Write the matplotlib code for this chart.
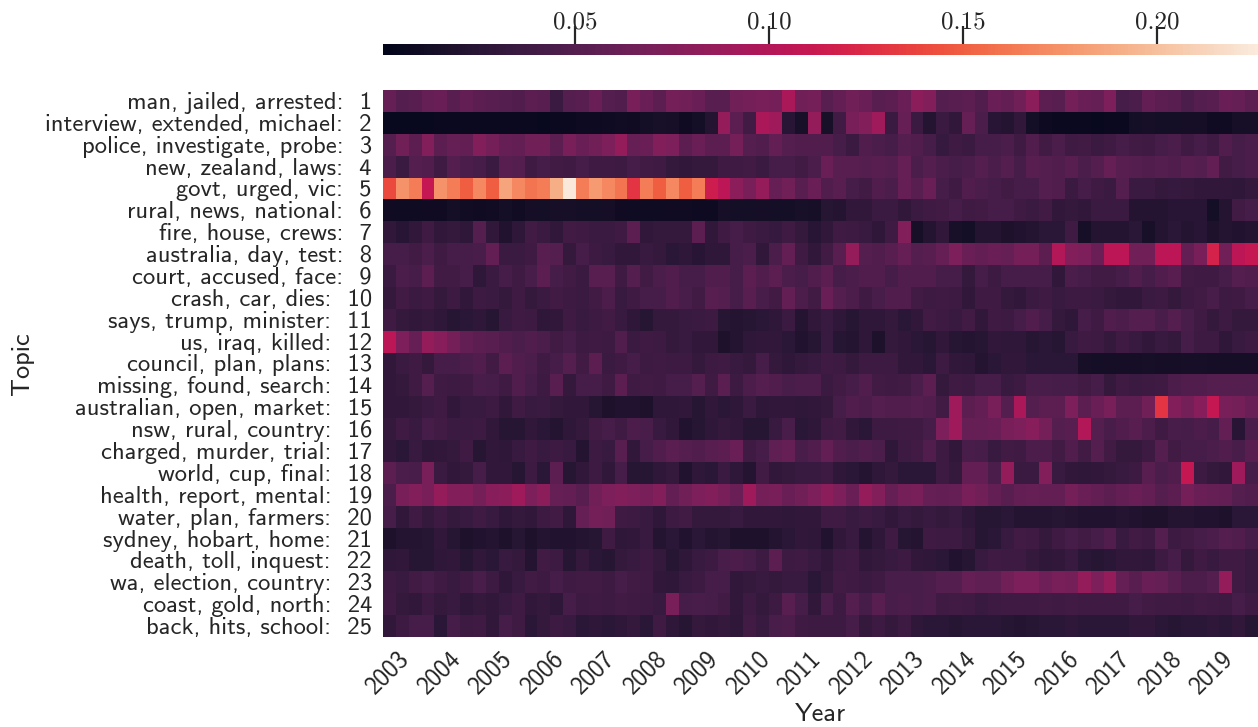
import numpy as np
import matplotlib
matplotlib.use('Agg')
import matplotlib.pyplot as plt
import matplotlib.transforms as mtrans
import seaborn as sns

topics = ['man, jailed, arrested', 'interview, extended, michael', 'police, investigate, probe',
          'new, zealand, laws', 'govt, urged, vic', 'rural, news, national', 'fire, house, crews',
          'australia, day, test', 'court, accused, face', 'crash, car, dies', 'says, trump, minister',
          'us, iraq, killed', 'council, plan, plans', 'missing, found, search', 'australian, open, market',
          'nsw, rural, country', 'charged, murder, trial', 'world, cup, final', 'health, report, mental',
          'water, plan, farmers', 'sydney, hobart, home', 'death, toll, inquest', 'wa, election, country',
          'coast, gold, north', 'back, hits, school']
years = list(range(2003, 2020))

# topic shares per quarter, in thousandths
t01 = [60,50,52,60,62,52,58,55,52,50,48,55,52,35,50,52,62,50,48,70,62,55,68,65,62,52,52,65,68,70,68,95,65,68,
       52,58,65,62,52,55,62,80,75,50,52,55,48,62,58,65,80,55,52,68,62,60,72,42,45,58,55,52,45,50,52,62,60,55]
t02 = [5,5,5,5,6,6,6,6,7,7,6,6,5,6,7,8,8,9,11,10,12,15,14,10,12,22,85,55,40,95,90,25,15,85,
       15,40,70,75,90,35,60,35,22,35,30,60,45,25,22,30,12,8,6,7,6,5,6,7,12,14,12,12,13,13,10,10,14,14]
t03 = [50,65,55,75,55,60,58,75,68,60,58,66,66,55,70,62,65,72,85,60,62,75,72,55,62,55,55,68,50,48,58,50,48,48,
       48,42,35,48,45,42,50,48,42,33,38,35,42,42,45,38,48,40,45,38,40,35,38,42,40,38,42,45,38,42,38,48,42,45]
t04 = [45,35,50,48,38,50,45,42,35,52,50,38,42,40,38,42,38,38,36,42,40,38,32,30,32,32,38,38,40,35,42,42,40,45,
       62,52,52,50,52,50,60,45,50,45,42,45,50,45,50,42,52,50,48,52,45,50,60,52,50,48,50,48,52,50,58,40,42,45]
t05 = [140,175,165,110,175,165,150,170,150,185,170,160,165,190,225,165,180,170,160,130,165,150,170,150,165,115,105,80,70,85,60,65,52,62,
       48,52,42,40,48,45,60,52,62,42,38,48,45,42,40,42,42,50,48,35,42,38,35,50,35,35,32,33,32,30,30,30,28,32]
t06 = [10,9,9,10,10,12,11,10,11,12,11,13,12,14,14,12,12,13,10,9,9,9,10,10,8,8,14,12,12,13,12,12,15,14,
       24,22,30,30,35,35,30,35,38,40,42,38,40,42,42,38,35,40,30,32,30,35,35,35,22,22,22,25,25,25,12,22,40,42]
t07 = [30,25,30,38,30,32,28,50,30,20,28,40,35,30,40,38,35,35,38,55,30,32,32,32,55,30,38,42,38,35,33,38,32,25,
       30,38,36,34,28,38,75,14,22,30,15,12,22,22,18,20,22,26,26,38,14,22,22,22,26,15,22,26,22,25,18,22,20,22]
t08 = [42,42,40,45,38,42,42,44,58,35,35,38,52,50,32,42,36,34,30,30,34,32,26,28,25,28,28,42,45,30,45,58,38,30,
       40,52,85,50,48,52,60,50,52,60,72,62,58,62,60,68,68,55,100,75,72,62,105,105,65,65,105,105,58,70,120,65,105,110]
t09 = [35,45,42,55,40,40,42,28,35,42,38,44,55,42,40,35,52,52,38,50,40,45,48,42,42,48,48,42,55,48,55,45,42,48,
       55,42,45,48,48,42,48,48,48,42,42,32,42,36,42,42,42,42,30,45,42,40,40,42,48,42,48,52,40,38,38,42,50,48]
t10 = [32,40,35,38,32,36,30,36,35,32,38,32,35,40,36,35,40,46,34,38,42,42,48,44,40,52,50,42,52,44,40,58,46,40,
       62,50,46,38,44,48,48,40,36,38,36,30,38,38,32,30,35,38,34,36,36,35,32,30,30,35,36,32,36,40,44,36,38,42]
t11 = [38,32,30,32,28,24,26,28,24,34,38,36,28,30,38,34,36,40,34,28,24,32,32,34,35,36,24,22,24,26,28,35,22,30,
       34,28,24,28,28,32,26,30,40,36,34,40,30,38,36,42,48,42,32,28,42,38,48,46,50,50,44,50,44,38,32,36,32,32]
t12 = [105,72,60,85,78,68,58,55,52,48,45,48,45,40,42,36,38,36,48,35,38,36,32,34,30,30,18,22,28,30,30,26,20,24,
       34,24,22,28,18,32,30,26,24,30,24,22,24,30,28,28,24,26,24,34,38,36,32,38,34,30,34,32,42,36,36,28,34,36]
t13 = [30,35,38,32,42,42,45,48,40,55,48,45,38,42,50,40,55,35,38,42,36,38,36,36,32,36,38,34,32,42,32,28,32,34,
       38,36,32,36,36,36,30,30,26,36,30,28,22,26,30,30,26,26,26,26,14,12,13,13,13,14,13,13,14,14,13,13,13,13]
t14 = [30,32,38,50,38,36,38,44,42,38,48,42,36,52,32,42,42,38,55,38,40,38,42,42,50,38,54,36,46,50,48,44,46,46,
       35,40,42,48,40,38,40,45,55,32,38,36,42,42,34,36,44,44,42,42,40,42,32,38,35,36,38,46,48,48,50,50,50,50]
t15 = [30,30,32,35,38,30,34,34,36,30,38,34,35,32,30,30,24,18,20,20,18,28,28,30,24,30,26,28,35,28,30,30,28,30,
       32,42,48,46,50,48,48,50,48,40,90,55,58,70,50,95,50,55,55,72,55,62,70,55,55,65,130,75,68,78,110,70,68,62]
t16 = [32,38,34,42,40,35,35,36,30,24,24,30,26,22,28,32,40,42,38,46,44,34,30,20,24,28,32,30,24,24,34,44,26,28,
       38,40,30,26,36,36,38,38,42,72,90,60,60,62,70,72,78,68,50,52,100,50,44,48,52,46,38,44,42,46,42,58,25,45]
t17 = [30,26,34,28,30,32,38,24,30,28,34,38,34,36,34,22,36,34,52,30,42,48,54,50,48,52,55,62,38,42,56,60,44,48,
       58,48,45,48,45,28,36,40,48,36,30,44,42,34,40,38,46,46,40,48,40,50,40,32,32,36,50,40,42,42,45,48,44,52]
t18 = [55,45,44,70,35,30,32,42,30,30,24,36,26,55,24,30,36,30,42,24,24,28,32,20,28,26,35,28,22,40,30,32,34,34,
       36,28,26,22,28,32,26,26,26,36,32,58,58,45,85,35,35,75,34,30,28,30,32,34,36,52,45,48,110,36,32,30,90,42]
t19 = [45,70,75,70,85,75,75,68,78,80,90,72,80,60,58,52,65,72,75,72,70,75,58,65,72,75,70,62,90,68,70,62,65,72,
       80,72,62,85,75,60,68,70,60,58,60,70,65,58,52,58,60,58,58,68,62,58,55,58,62,58,50,55,68,62,60,58,50,48]
t20 = [42,30,38,32,36,32,34,38,34,28,32,30,36,40,28,60,68,65,38,36,34,28,36,40,32,32,32,34,30,30,30,28,30,30,
       38,38,34,36,34,30,34,32,34,32,34,28,24,24,26,22,22,22,24,22,20,20,20,22,20,18,18,22,22,20,20,18,26,26]
t21 = [18,22,22,24,30,24,18,20,22,18,24,18,22,20,20,22,24,38,28,30,34,22,26,20,26,22,24,18,18,18,22,26,30,28,
       20,30,34,22,28,38,24,22,38,36,36,32,24,26,34,40,38,32,38,42,40,42,48,34,40,36,50,36,40,42,45,50,48,42]
t22 = [28,30,24,24,28,30,24,30,26,34,32,22,40,36,24,32,26,24,32,34,36,32,24,28,34,36,44,46,42,36,55,36,38,34,
       30,36,38,30,32,34,36,30,28,26,20,24,34,38,36,36,32,28,30,34,26,24,26,30,30,28,36,42,32,38,34,38,38,34]
t23 = [36,34,40,42,38,34,38,44,36,28,34,40,36,42,38,40,40,36,42,40,38,30,28,34,36,42,42,30,32,34,32,34,34,26,
       32,40,38,35,38,44,44,44,46,50,50,60,56,56,65,72,72,64,70,68,85,72,85,60,52,62,60,52,46,46,50,85,38,34]
t24 = [38,32,30,36,32,34,28,32,30,34,38,30,32,28,42,36,38,36,40,38,36,34,70,42,44,42,40,30,36,32,36,52,42,30,
       45,36,50,42,52,44,46,44,46,38,40,38,34,36,38,38,38,40,38,40,38,38,38,38,42,40,38,38,36,40,38,36,42,38]
t25 = [30,36,42,42,26,42,36,38,30,42,38,26,32,36,34,26,28,26,28,32,26,38,28,24,32,30,32,28,40,34,44,46,38,36,
       36,36,42,32,36,32,36,28,26,26,24,26,26,26,24,22,24,26,26,28,26,26,26,26,30,30,26,24,26,26,28,26,30,24]

rows = [t01, t02, t03, t04, t05, t06, t07, t08, t09, t10, t11, t12, t13,
        t14, t15, t16, t17, t18, t19, t20, t21, t22, t23, t24, t25]
data = np.array(rows) / 1000

text_color = '#262626'

fig = plt.figure(figsize=(12.58, 7.27), dpi=100)
W, H = 1258, 727
ax = fig.add_axes([383 / W, 1 - 637 / H, 875 / W, 547 / H])
cax = fig.add_axes([383 / W, 1 - 55 / H, 875 / W, 11 / H])

sns.heatmap(data, ax=ax, cbar_ax=cax, cmap='rocket', vmin=0.0005, vmax=0.226,
            cbar_kws={'orientation': 'horizontal'})

ylabels = ['{}:  {}'.format(t, i + 1) for i, t in enumerate(topics)]
ax.set_yticks(np.arange(len(topics)) + 0.5)
ax.set_yticklabels(ylabels, rotation=0, fontsize=17.7, family='cmss10', color=text_color)
ax.set_xticks(np.arange(len(years)) * 4 + 0.4)
ax.set_xticklabels(years, rotation=45, fontsize=18, family='cmss10', color=text_color)
ax.tick_params(axis='x', length=0, pad=7)
ax.tick_params(axis='y', length=0, pad=8)
ax.set_ylabel('Topic', fontsize=19, family='cmss10', color=text_color, labelpad=8)
ax.set_xlabel('Year', fontsize=19, family='cmss10', color=text_color, labelpad=3.5)

# labels sit a little lower than the row centres
shift = mtrans.ScaledTranslation(0, -2 / 100, fig.dpi_scale_trans)
for label in ax.get_yticklabels():
    label.set_transform(label.get_transform() + shift)

# colorbar ticks go on top
cax.xaxis.set_ticks_position('top')
cax.set_xticks([0.05, 0.10, 0.15, 0.20])
cax.set_xticklabels(['0.05', '0.10', '0.15', '0.20'], fontsize=18, family='cmr10', color=text_color)
cax.tick_params(length=13, width=1.6, color=text_color, pad=-5.5)

fig.savefig('out.png', dpi=100)
